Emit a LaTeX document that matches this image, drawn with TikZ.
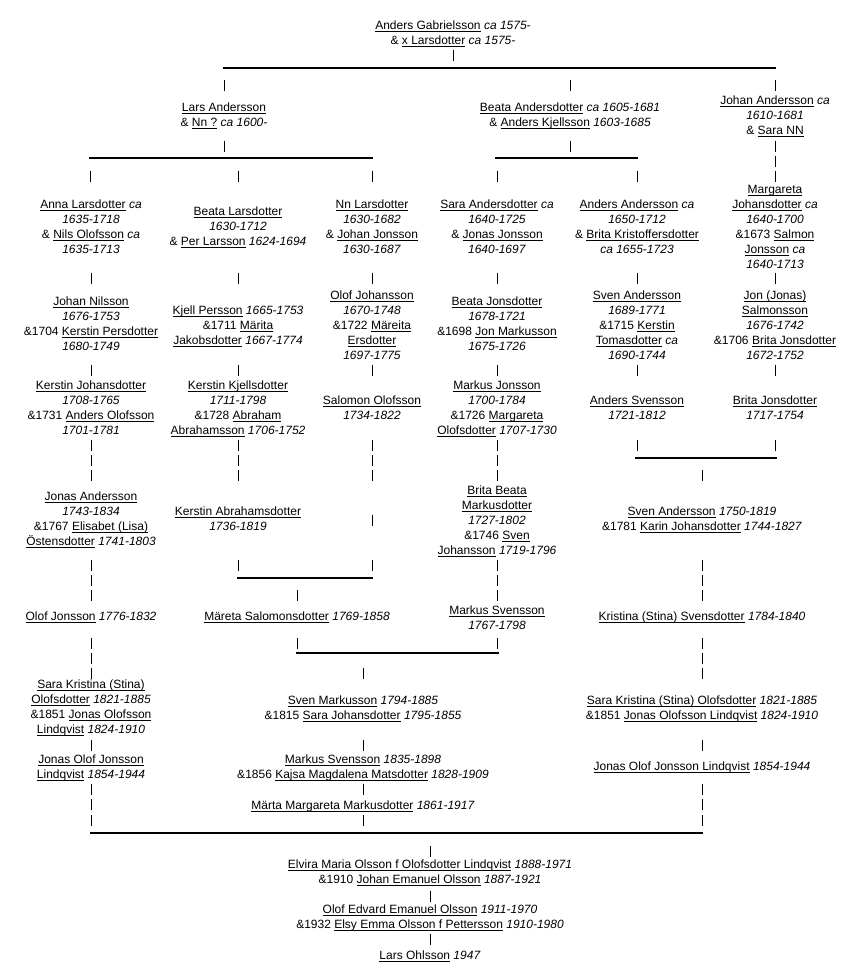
\documentclass[tikz,border=0pt]{standalone}
\usepackage{fontspec}
\setmainfont{Liberation Sans}
\newcommand\un[1]{\setbox0\hbox{#1}\rlap{\rule[-1.9pt]{\wd0}{0.7pt}}\box0\relax}
\newcommand\dt[1]{\textit{#1}}
\newcommand\pfont{\fontsize{9}{11.25}\selectfont}
\newcommand\vb[2]{\draw[vbar] (#1,#2-5.5) -- (#1,#2+5.5);}
\begin{document}
\begin{tikzpicture}[x=0.75pt,y=-0.75pt,
  blk/.style={anchor=north,inner sep=0pt,outer sep=0pt,align=center,font=\pfont,yshift=7.875pt},
  vbar/.style={line width=0.75pt},
  hline/.style={line width=1.5pt}]
\useasboundingbox[fill=white] (0,0) rectangle (847,975);

% ---------- generation 0
\node[blk] (ag) at (453,29) {\strut\un{Anders Gabrielsson} \dt{ca 1575-}\\\& \un{x Larsdotter} \dt{ca 1575-}};

% ---------- generation 1
\node[blk] (la) at (224,111) {\strut\un{Lars Andersson}\\\& \un{Nn ?} \dt{ca 1600-}};
\node[blk] (ba) at (570,111) {\strut\un{Beata Andersdotter} \dt{ca 1605-1681}\\\& \un{Anders Kjellsson} \dt{1603-1685}};
\node[blk] (ja) at (775,104) {\strut\un{Johan Andersson} \dt{ca}\\\dt{1610-1681}\\\& \un{Sara NN}};

% ---------- generation 2
\node[blk] (al) at (91,208.5) {\strut\un{Anna Larsdotter} \dt{ca}\\\dt{1635-1718}\\\& \un{Nils Olofsson} \dt{ca}\\\dt{1635-1713}};
\node[blk] (bl) at (238,215.7) {\strut\un{Beata Larsdotter}\\\dt{1630-1712}\\\& \un{Per Larsson} \dt{1624-1694}};
\node[blk] (nl) at (372,208.5) {\strut\un{Nn Larsdotter}\\\dt{1630-1682}\\\& \un{Johan Jonsson}\\\dt{1630-1687}};
\node[blk] (sa) at (497,208.5) {\strut\un{Sara Andersdotter} \dt{ca}\\\dt{1640-1725}\\\& \un{Jonas Jonsson}\\\dt{1640-1697}};
\node[blk] (aa) at (637,208.5) {\strut\un{Anders Andersson} \dt{ca}\\\dt{1650-1712}\\\& \un{Brita Kristoffersdotter}\\\dt{ca 1655-1723}};
\node[blk] (mj) at (775,193.5) {\strut\un{Margareta}\\\un{Johansdotter} \dt{ca}\\\dt{1640-1700}\\\&1673 \un{Salmon}\\\un{Jonsson} \dt{ca}\\\dt{1640-1713}};

% ---------- generation 3
\node[blk] (jn) at (91,305.7) {\strut\un{Johan Nilsson}\\\dt{1676-1753}\\\&1704 \un{Kerstin Persdotter}\\\dt{1680-1749}};
\node[blk] (kp) at (238,314) {\strut\un{Kjell Persson} \dt{1665-1753}\\\&1711 \un{Märita}\\\un{Jakobsdotter} \dt{1667-1774}};
\node[blk] (oj) at (372,299) {\strut\un{Olof Johansson}\\\dt{1670-1748}\\\&1722 \un{Märeita}\\\un{Ersdotter}\\\dt{1697-1775}};
\node[blk] (bj) at (497,305.7) {\strut\un{Beata Jonsdotter}\\\dt{1678-1721}\\\&1698 \un{Jon Markusson}\\\dt{1675-1726}};
\node[blk] (sv1) at (637,299) {\strut\un{Sven Andersson}\\\dt{1689-1771}\\\&1715 \un{Kerstin}\\\un{Tomasdotter} \dt{ca}\\\dt{1690-1744}};
\node[blk] (js) at (775,299) {\strut\un{Jon (Jonas)}\\\un{Salmonsson}\\\dt{1676-1742}\\\&1706 \un{Brita Jonsdotter}\\\dt{1672-1752}};

% ---------- generation 4
\node[blk] (kj) at (91,389) {\strut\un{Kerstin Johansdotter}\\\dt{1708-1765}\\\&1731 \un{Anders Olofsson}\\\dt{1701-1781}};
\node[blk] (kk) at (238,389) {\strut\un{Kerstin Kjellsdotter}\\\dt{1711-1798}\\\&1728 \un{Abraham}\\\un{Abrahamsson} \dt{1706-1752}};
\node[blk] (so) at (372,404) {\strut\un{Salomon Olofsson}\\\dt{1734-1822}};
\node[blk] (mjo) at (497,389) {\strut\un{Markus Jonsson}\\\dt{1700-1784}\\\&1726 \un{Margareta}\\\un{Olofsdotter} \dt{1707-1730}};
\node[blk] (as) at (637,404) {\strut\un{Anders Svensson}\\\dt{1721-1812}};
\node[blk] (bjo) at (775,404) {\strut\un{Brita Jonsdotter}\\\dt{1717-1754}};

% ---------- generation 5
\node[blk] (jan) at (91,500.7) {\strut\un{Jonas Andersson}\\\dt{1743-1834}\\\&1767 \un{Elisabet (Lisa)}\\\un{Östensdotter} \dt{1741-1803}};
\node[blk] (kab) at (238,515.7) {\strut\un{Kerstin Abrahamsdotter}\\\dt{1736-1819}};
\node[blk] (bbm) at (497,494) {\strut\un{Brita Beata}\\\un{Markusdotter}\\\dt{1727-1802}\\\&1746 \un{Sven}\\\un{Johansson} \dt{1719-1796}};
\node[blk] (sv2) at (702,515.7) {\strut\un{Sven Andersson} \dt{1750-1819}\\\&1781 \un{Karin Johansdotter} \dt{1744-1827}};

% ---------- generation 6
\node[blk] (ojo) at (91,620.7) {\strut\un{Olof Jonsson} \dt{1776-1832}};
\node[blk] (msa) at (297,620.7) {\strut\un{Märeta Salomonsdotter} \dt{1769-1858}};
\node[blk] (msv1) at (497,614) {\strut\un{Markus Svensson}\\\dt{1767-1798}};
\node[blk] (kss) at (702,620.7) {\strut\un{Kristina (Stina) Svensdotter} \dt{1784-1840}};

% ---------- generation 7
\node[blk] (sko1) at (91,688.5) {\strut\un{Sara Kristina (Stina)}\\\un{Olofsdotter} \dt{1821-1885}\\\&1851 \un{Jonas Olofsson}\\\un{Lindqvist} \dt{1824-1910}};
\node[blk] (smk) at (363,704) {\strut\un{Sven Markusson} \dt{1794-1885}\\\&1815 \un{Sara Johansdotter} \dt{1795-1855}};
\node[blk] (sko2) at (702,704) {\strut\un{Sara Kristina (Stina) Olofsdotter} \dt{1821-1885}\\\&1851 \un{Jonas Olofsson Lindqvist} \dt{1824-1910}};

% ---------- generation 8
\node[blk] (jol1) at (91,763) {\strut\un{Jonas Olof Jonsson}\\\un{Lindqvist} \dt{1854-1944}};
\node[blk] (msv2) at (363,763) {\strut\un{Markus Svensson} \dt{1835-1898}\\\&1856 \un{Kajsa Magdalena Matsdotter} \dt{1828-1909}};
\node[blk] (jol2) at (702,770.7) {\strut\un{Jonas Olof Jonsson Lindqvist} \dt{1854-1944}};
\node[blk] (mmm) at (363,809) {\strut\un{Märta Margareta Markusdotter} \dt{1861-1917}};

% ---------- last generations
\node[blk] (emo) at (430,868) {\strut\un{Elvira Maria Olsson f Olofsdotter Lindqvist} \dt{1888-1971}\\\&1910 \un{Johan Emanuel Olsson} \dt{1887-1921}};
\node[blk] (oeo) at (430,913) {\strut\un{Olof Edvard Emanuel Olsson} \dt{1911-1970}\\\&1932 \un{Elsy Emma Olsson f Pettersson} \dt{1910-1980}};
\node[blk] (lo) at (430,959) {\strut\un{Lars Ohlsson} \dt{1947}};

% ---------- horizontal joins
\coordinate (h0a) at (223,68);  \coordinate (h0b) at (776,68);
\coordinate (h1a) at (89,158);  \coordinate (h1b) at (373,158);
\coordinate (h2a) at (495,158); \coordinate (h2b) at (638,158);
\coordinate (h3a) at (635,458); \coordinate (h3b) at (777,458);
\coordinate (h4a) at (237,578); \coordinate (h4b) at (373,578);
\coordinate (h5a) at (296,653); \coordinate (h5b) at (499,653);
\coordinate (h6a) at (90,833);  \coordinate (h6b) at (703,833);
\foreach \a/\b in {h0a/h0b,h1a/h1b,h2a/h2b,h3a/h3b,h4a/h4b,h5a/h5b,h6a/h6b}
  \draw[hline] (\a) -- (\b);

% ---------- vertical bars
\vb{453}{55}
\foreach \x in {224,570,775} {\vb{\x}{85}\vb{\x}{146}}
\vb{775}{161}
\foreach \x in {90,238,372,497,637,775} {\vb{\x}{176}}
\foreach \x in {91,238,372,497,637,775} {\vb{\x}{278}\vb{\x}{370}\vb{\x}{445}}
\foreach \x in {91,238,372,497} {\vb{\x}{460}\vb{\x}{475}}
\vb{702}{475}
\vb{372}{520}
\foreach \x in {91,238,372,497,702} {\vb{\x}{565}}
\foreach \x in {91,497,702} {\vb{\x}{580}}
\foreach \x in {91,297,497,702} {\vb{\x}{595}\vb{\x}{643}}
\foreach \x in {91,702} {\vb{\x}{658}}
\foreach \x in {91,363,702} {\vb{\x}{673}\vb{\x}{745}\vb{\x}{789}\vb{\x}{820}}
\foreach \x in {91,702} {\vb{\x}{804}}
\foreach \y in {851,896,939} {\vb{430}{\y}}
\end{tikzpicture}
\end{document}
